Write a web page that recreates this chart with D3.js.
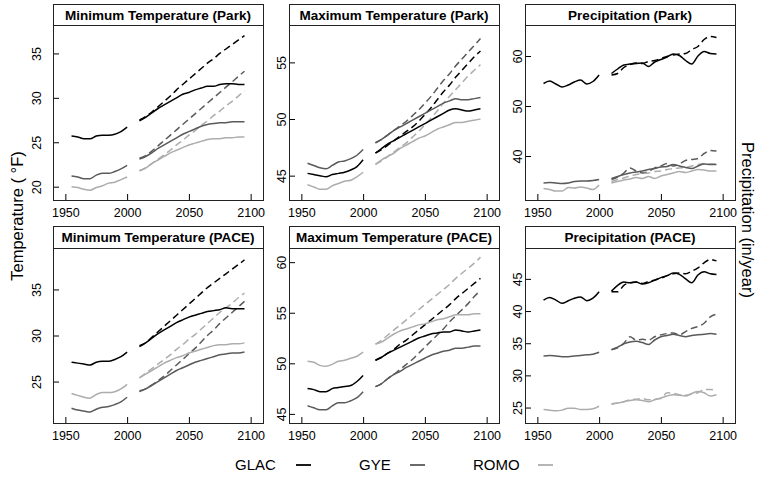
<!DOCTYPE html>
<html>
<head>
<meta charset="utf-8">
<script src="https://cdn.jsdelivr.net/npm/d3@7"></script>
<style>
  body { margin: 0; background: #fff; }
  svg { display: block; }
  text { font-family: "Liberation Sans", Arial, Helvetica, sans-serif; fill: #000; }
</style>
</head>
<body>
<svg id="chart" width="758" height="478"></svg>
<script>
// ---- Data -------------------------------------------------------------
const xTicks = [1950, 2000, 2050, 2100];
const histYears = [1955, 1960, 1965, 1970, 1975, 1980, 1985, 1990, 1995, 2000];
const futureYears = [2010, 2015, 2020, 2025, 2030, 2035, 2040, 2045, 2050,
                     2055, 2060, 2065, 2070, 2075, 2080, 2085, 2090, 2095];
const parks = ["GLAC", "GYE", "ROMO"];

// Minimum temperature, park (°F): historical, moderate (solid), high (dashed)
const tminPark_GLAC_hist = [25.7, 25.6, 25.4, 25.4, 25.7, 25.8, 25.8, 25.9, 26.2, 26.7];
const tminPark_GLAC_mod  = [27.4, 27.8, 28.3, 28.8, 29.2, 29.6, 30.0, 30.4, 30.6, 30.9, 31.1, 31.3, 31.3, 31.5, 31.6, 31.6, 31.5, 31.5];
const tminPark_GLAC_high = [27.5, 27.9, 28.4, 29.0, 29.6, 30.2, 30.9, 31.5, 32.1, 32.7, 33.3, 33.9, 34.4, 35.0, 35.5, 36.0, 36.5, 37.0];
const tminPark_GYE_hist  = [21.2, 21.1, 20.9, 20.9, 21.3, 21.5, 21.5, 21.7, 22.0, 22.4];
const tminPark_GYE_mod   = [23.1, 23.4, 23.8, 24.3, 24.7, 25.1, 25.5, 25.9, 26.2, 26.5, 26.8, 27.0, 27.1, 27.2, 27.2, 27.3, 27.3, 27.3];
const tminPark_GYE_high  = [23.2, 23.5, 24.0, 24.6, 25.2, 25.8, 26.4, 27.0, 27.6, 28.2, 28.8, 29.4, 30.0, 30.6, 31.2, 31.8, 32.4, 33.0];
const tminPark_ROMO_hist = [20.0, 19.9, 19.7, 19.6, 19.9, 20.1, 20.4, 20.5, 20.8, 21.1];
const tminPark_ROMO_mod  = [21.8, 22.1, 22.6, 23.0, 23.4, 23.8, 24.1, 24.4, 24.7, 24.9, 25.1, 25.3, 25.4, 25.4, 25.5, 25.5, 25.6, 25.6];
const tminPark_ROMO_high = [21.8, 22.1, 22.6, 23.1, 23.6, 24.1, 24.7, 25.2, 25.8, 26.3, 26.9, 27.4, 28.0, 28.5, 29.1, 29.6, 30.2, 30.8];

// Maximum temperature, park (°F)
const tmaxPark_GLAC_hist = [45.2, 45.1, 45.0, 44.9, 45.1, 45.2, 45.3, 45.5, 45.8, 46.4];
const tmaxPark_GLAC_mod  = [47.0, 47.4, 47.8, 48.1, 48.4, 48.7, 49.0, 49.3, 49.6, 49.9, 50.2, 50.5, 50.8, 50.9, 50.8, 50.7, 50.8, 50.9];
const tmaxPark_GLAC_high = [47.0, 47.3, 47.7, 48.1, 48.5, 48.9, 49.3, 49.8, 50.4, 51.0, 51.7, 52.4, 53.0, 53.7, 54.3, 54.9, 55.5, 56.0];
const tmaxPark_GYE_hist  = [46.1, 45.9, 45.7, 45.6, 45.9, 46.2, 46.3, 46.5, 46.8, 47.3];
const tmaxPark_GYE_mod   = [47.9, 48.2, 48.6, 49.0, 49.3, 49.6, 49.9, 50.2, 50.5, 50.8, 51.1, 51.4, 51.6, 51.8, 51.7, 51.7, 51.8, 51.9];
const tmaxPark_GYE_high  = [47.9, 48.2, 48.6, 49.0, 49.4, 49.8, 50.3, 50.8, 51.4, 52.0, 52.7, 53.4, 54.0, 54.7, 55.3, 55.9, 56.5, 57.1];
const tmaxPark_ROMO_hist = [44.2, 44.0, 43.8, 43.8, 44.1, 44.3, 44.5, 44.6, 44.9, 45.3];
const tmaxPark_ROMO_mod  = [46.0, 46.4, 46.7, 47.0, 47.4, 47.7, 48.0, 48.3, 48.5, 48.8, 49.1, 49.3, 49.5, 49.7, 49.7, 49.8, 49.9, 50.0];
const tmaxPark_ROMO_high = [46.0, 46.3, 46.7, 47.1, 47.5, 47.9, 48.4, 48.9, 49.5, 50.1, 50.7, 51.4, 52.0, 52.6, 53.2, 53.8, 54.3, 54.8];

// Precipitation, park (in/year)
const precPark_GLAC_hist = [54.5, 55.0, 54.4, 53.8, 54.2, 54.8, 55.2, 54.4, 54.9, 56.2];
const precPark_GLAC_mod  = [56.5, 57.4, 58.2, 58.4, 58.5, 58.6, 57.9, 58.8, 59.3, 59.8, 60.4, 60.1, 59.1, 58.4, 60.0, 60.9, 60.5, 60.4];
const precPark_GLAC_high = [56.2, 56.5, 57.7, 58.3, 58.6, 58.5, 58.9, 59.1, 59.5, 59.9, 60.2, 60.4, 60.5, 61.3, 61.9, 63.3, 63.9, 63.7];
const precPark_GYE_hist  = [34.6, 34.7, 34.6, 34.5, 34.6, 34.9, 35.0, 35.0, 35.1, 35.3];
const precPark_GYE_mod   = [35.5, 35.9, 36.3, 36.6, 36.8, 37.0, 37.3, 37.5, 37.8, 37.9, 38.3, 38.0, 37.7, 37.5, 38.0, 38.4, 38.3, 38.3];
const precPark_GYE_high  = [35.3, 35.8, 36.6, 37.6, 37.0, 36.6, 36.9, 37.6, 38.0, 38.5, 38.0, 38.4, 39.1, 39.3, 39.5, 40.5, 41.1, 41.0];
const precPark_ROMO_hist = [33.5, 33.3, 33.0, 33.0, 33.7, 33.6, 33.8, 33.6, 33.3, 34.2];
const precPark_ROMO_mod  = [34.6, 34.9, 35.2, 35.4, 35.7, 35.5, 35.9, 35.5, 36.0, 36.3, 36.6, 36.9, 36.7, 37.0, 37.3, 37.2, 37.0, 37.0];
const precPark_ROMO_high = [34.9, 35.3, 35.6, 36.0, 36.3, 36.5, 36.6, 36.9, 37.0, 37.3, 37.5, 37.6, 37.7, 38.0, 38.3, 38.5, 38.4, 38.4];

// Minimum temperature, PACE (°F)
const tminPace_GLAC_hist = [27.1, 27.0, 26.9, 26.8, 27.1, 27.2, 27.2, 27.4, 27.7, 28.2];
const tminPace_GLAC_mod  = [28.9, 29.2, 29.7, 30.2, 30.6, 31.0, 31.4, 31.7, 32.0, 32.2, 32.4, 32.6, 32.7, 32.8, 33.0, 32.9, 32.9, 32.9];
const tminPace_GLAC_high = [28.8, 29.2, 29.8, 30.4, 31.0, 31.6, 32.2, 32.8, 33.4, 34.0, 34.6, 35.2, 35.7, 36.2, 36.7, 37.2, 37.7, 38.2];
const tminPace_GYE_hist  = [22.1, 21.9, 21.8, 21.7, 22.0, 22.2, 22.3, 22.5, 22.8, 23.3];
const tminPace_GYE_mod   = [23.9, 24.2, 24.6, 25.0, 25.4, 25.8, 26.2, 26.5, 26.8, 27.1, 27.3, 27.5, 27.7, 27.9, 28.0, 28.1, 28.1, 28.2];
const tminPace_GYE_high  = [24.0, 24.2, 24.6, 25.1, 25.6, 26.2, 26.8, 27.4, 28.0, 28.6, 29.3, 30.0, 30.6, 31.3, 31.9, 32.5, 33.1, 33.7];
const tminPace_ROMO_hist = [23.7, 23.5, 23.3, 23.2, 23.6, 23.8, 23.8, 23.9, 24.2, 24.7];
const tminPace_ROMO_mod  = [25.4, 25.8, 26.2, 26.6, 27.0, 27.3, 27.6, 27.8, 28.1, 28.3, 28.5, 28.7, 28.9, 29.0, 29.0, 29.1, 29.1, 29.2];
const tminPace_ROMO_high = [25.4, 25.9, 26.4, 26.9, 27.4, 27.9, 28.5, 29.0, 29.6, 30.1, 30.7, 31.3, 31.9, 32.5, 33.0, 33.5, 34.1, 34.6];

// Maximum temperature, PACE (°F)
const tmaxPace_GLAC_hist = [47.5, 47.4, 47.2, 47.2, 47.5, 47.6, 47.7, 47.8, 48.2, 48.8];
const tmaxPace_GLAC_mod  = [50.3, 50.6, 51.0, 51.3, 51.6, 51.9, 52.2, 52.5, 52.7, 52.9, 53.0, 53.1, 53.1, 53.3, 53.2, 53.1, 53.2, 53.3];
const tmaxPace_GLAC_high = [50.3, 50.6, 51.0, 51.4, 51.9, 52.3, 52.8, 53.3, 53.8, 54.3, 54.8, 55.3, 55.8, 56.4, 56.9, 57.4, 57.9, 58.4];
const tmaxPace_GYE_hist  = [45.8, 45.6, 45.4, 45.4, 45.8, 46.1, 46.1, 46.3, 46.6, 47.2];
const tmaxPace_GYE_mod   = [47.7, 48.0, 48.5, 48.9, 49.2, 49.6, 49.9, 50.2, 50.5, 50.8, 51.0, 51.2, 51.3, 51.5, 51.5, 51.6, 51.7, 51.7];
const tmaxPace_GYE_high  = [47.7, 48.0, 48.5, 48.9, 49.4, 49.9, 50.4, 51.0, 51.6, 52.2, 52.8, 53.4, 54.1, 54.7, 55.3, 55.9, 56.6, 57.2];
const tmaxPace_ROMO_hist = [50.2, 50.1, 49.8, 49.7, 49.9, 50.2, 50.3, 50.5, 50.7, 51.1];
const tmaxPace_ROMO_mod  = [51.9, 52.1, 52.5, 52.9, 53.2, 53.4, 53.6, 53.8, 53.9, 54.1, 54.3, 54.4, 54.6, 54.8, 54.8, 54.8, 54.9, 54.9];
const tmaxPace_ROMO_high = [51.9, 52.3, 52.8, 53.3, 53.8, 54.3, 54.8, 55.3, 55.8, 56.3, 56.8, 57.3, 57.8, 58.4, 58.9, 59.4, 59.9, 60.5];

// Precipitation, PACE (in/year)
const precPace_GLAC_hist = [41.7, 42.1, 41.7, 41.2, 41.6, 42.0, 42.2, 41.6, 42.0, 43.0];
const precPace_GLAC_mod  = [43.1, 44.0, 44.5, 44.4, 44.5, 44.2, 44.4, 44.8, 45.2, 45.5, 45.9, 45.7, 45.0, 44.4, 45.6, 46.1, 45.8, 45.7];
const precPace_GLAC_high = [43.0, 43.0, 44.0, 44.4, 44.5, 44.3, 44.6, 44.8, 45.1, 45.5, 45.8, 45.9, 45.8, 46.2, 46.7, 47.5, 48.0, 47.8];
const precPace_GYE_hist  = [33.0, 33.1, 33.0, 32.9, 32.9, 33.0, 33.1, 33.2, 33.3, 33.6];
const precPace_GYE_mod   = [34.0, 34.4, 34.9, 35.2, 35.3, 35.1, 34.8, 35.5, 36.0, 36.2, 36.4, 36.2, 36.0, 36.2, 36.3, 36.4, 36.5, 36.4];
const precPace_GYE_high  = [34.0, 34.3, 35.0, 36.0, 35.5, 35.6, 35.5, 36.0, 36.3, 36.5, 36.6, 36.3, 36.8, 37.3, 37.6, 38.1, 39.1, 39.5];
const precPace_ROMO_hist = [24.7, 24.6, 24.5, 24.6, 24.9, 24.9, 24.7, 24.7, 24.8, 25.2];
const precPace_ROMO_mod  = [25.6, 25.7, 25.9, 26.1, 26.2, 26.1, 25.9, 26.2, 26.5, 26.8, 27.0, 26.9, 26.8, 27.2, 27.5, 27.3, 26.8, 27.0];
const precPace_ROMO_high = [25.5, 25.7, 25.9, 26.2, 26.3, 26.4, 26.2, 26.3, 26.4, 27.3, 27.2, 27.0, 26.9, 27.1, 27.3, 27.8, 27.8, 27.7];

// ---- Layout & style ---------------------------------------------------
const colLeft = [53, 289, 525];
const panelWidth = 210;
const rows = [
  { top: 4,   stripBottom: 25,  bottom: 200 },
  { top: 226, stripBottom: 248, bottom: 423 }
];
const parkColor = { GLAC: "#000000", GYE: "#5a5a5a", ROMO: "#adadad" };
const lineWidth = 1.5;
const dashPattern = "7,4";

const panels = [
  { title: "Minimum Temperature (Park)", row: 0, col: 0, yLim: [18.5, 38.2], yTicks: [20, 25, 30, 35], labelGap: 16.5,
    series: [[tminPark_GLAC_hist, tminPark_GLAC_mod, tminPark_GLAC_high],
             [tminPark_GYE_hist,  tminPark_GYE_mod,  tminPark_GYE_high],
             [tminPark_ROMO_hist, tminPark_ROMO_mod, tminPark_ROMO_high]] },
  { title: "Maximum Temperature (Park)", row: 0, col: 1, yLim: [42.85, 58.3], yTicks: [45, 50, 55], labelGap: 8,
    series: [[tmaxPark_GLAC_hist, tmaxPark_GLAC_mod, tmaxPark_GLAC_high],
             [tmaxPark_GYE_hist,  tmaxPark_GYE_mod,  tmaxPark_GYE_high],
             [tmaxPark_ROMO_hist, tmaxPark_ROMO_mod, tmaxPark_ROMO_high]] },
  { title: "Precipitation (Park)", row: 0, col: 2, yLim: [31.2, 66.2], yTicks: [40, 50, 60], labelGap: 8,
    series: [[precPark_GLAC_hist, precPark_GLAC_mod, precPark_GLAC_high],
             [precPark_GYE_hist,  precPark_GYE_mod,  precPark_GYE_high],
             [precPark_ROMO_hist, precPark_ROMO_mod, precPark_ROMO_high]] },
  { title: "Minimum Temperature (PACE)", row: 1, col: 0, yLim: [20.5, 39.5], yTicks: [25, 30, 35], labelGap: 16.5,
    series: [[tminPace_GLAC_hist, tminPace_GLAC_mod, tminPace_GLAC_high],
             [tminPace_GYE_hist,  tminPace_GYE_mod,  tminPace_GYE_high],
             [tminPace_ROMO_hist, tminPace_ROMO_mod, tminPace_ROMO_high]] },
  { title: "Maximum Temperature (PACE)", row: 1, col: 1, yLim: [44.1, 61.4], yTicks: [45, 50, 55, 60], labelGap: 8,
    series: [[tmaxPace_GLAC_hist, tmaxPace_GLAC_mod, tmaxPace_GLAC_high],
             [tmaxPace_GYE_hist,  tmaxPace_GYE_mod,  tmaxPace_GYE_high],
             [tmaxPace_ROMO_hist, tmaxPace_ROMO_mod, tmaxPace_ROMO_high]] },
  { title: "Precipitation (PACE)", row: 1, col: 2, yLim: [22.6, 49.8], yTicks: [25, 30, 35, 40, 45], labelGap: 8,
    series: [[precPace_GLAC_hist, precPace_GLAC_mod, precPace_GLAC_high],
             [precPace_GYE_hist,  precPace_GYE_mod,  precPace_GYE_high],
             [precPace_ROMO_hist, precPace_ROMO_mod, precPace_ROMO_high]] }
];

// ---- Drawing ----------------------------------------------------------
const svg = d3.select("#chart");

function drawPanel(p) {
  const r = rows[p.row];
  const left = colLeft[p.col];
  const x = d3.scaleLinear().domain([1940, 2110]).range([left, left + panelWidth]);
  const y = d3.scaleLinear().domain(p.yLim).range([r.bottom, r.stripBottom]);
  const g = svg.append("g");

  const line = (years) => d3.line()
    .x((d, i) => x(years[i]))
    .y(d => y(d))
    .curve(d3.curveMonotoneX);

  // future: high-emission (dashed) first, then moderate (solid) and historical
  p.series.forEach((s, k) => {
    const col = parkColor[parks[k]];
    g.append("path").attr("d", line(futureYears)(s[2]))
      .attr("fill", "none").attr("stroke", col).attr("stroke-width", lineWidth)
      .attr("stroke-dasharray", dashPattern);
  });
  p.series.forEach((s, k) => {
    const col = parkColor[parks[k]];
    g.append("path").attr("d", line(futureYears)(s[1]))
      .attr("fill", "none").attr("stroke", col).attr("stroke-width", lineWidth);
    g.append("path").attr("d", line(histYears)(s[0]))
      .attr("fill", "none").attr("stroke", col).attr("stroke-width", lineWidth);
  });

  // x axis, ticks pointing into the plot
  const xa = g.append("g").attr("transform", `translate(0,${r.bottom})`)
    .call(d3.axisBottom(x).tickValues(xTicks).tickFormat(d3.format("d")).tickSize(-6).tickPadding(8));
  xa.select(".domain").remove();
  xa.selectAll("line").attr("stroke", "#000");
  xa.selectAll("text").attr("font-size", 12.5).attr("font-family", null).attr("fill", "#000");

  // y axis, ticks inward and labels rotated
  const ya = g.append("g").attr("transform", `translate(${left},0)`)
    .call(d3.axisLeft(y).tickValues(p.yTicks).tickSize(-6));
  ya.select(".domain").remove();
  ya.selectAll("line").attr("stroke", "#000");
  ya.selectAll("text")
    .attr("font-size", 12.5).attr("font-family", null).attr("fill", "#000")
    .attr("x", null).attr("dy", null)
    .attr("text-anchor", "middle")
    .attr("transform", `translate(${-p.labelGap + 4.5},0) rotate(-90)`);

  // frame and title strip
  g.append("rect").attr("x", left + 0.5).attr("y", r.top + 0.5)
    .attr("width", panelWidth).attr("height", r.bottom - r.top)
    .attr("fill", "none").attr("stroke", "#222").attr("stroke-width", 1);
  g.append("line").attr("x1", left).attr("x2", left + panelWidth)
    .attr("y1", r.stripBottom + 0.5).attr("y2", r.stripBottom + 0.5)
    .attr("stroke", "#222");
  g.append("text").attr("x", left + panelWidth / 2).attr("y", (r.top + r.stripBottom) / 2 + 5)
    .attr("text-anchor", "middle").attr("font-weight", "bold").attr("font-size", 13.5)
    .text(p.title);
}

panels.forEach(drawPanel);

// axis titles
svg.append("text").attr("transform", "translate(23,216) rotate(-90)")
  .attr("text-anchor", "middle").attr("font-size", 16.5).text("Temperature ( °F)");
svg.append("text").attr("transform", "translate(742,220) rotate(90)")
  .attr("text-anchor", "middle").attr("font-size", 16.5).text("Precipitation (in/year)");

// legend
const legendText = [235, 359, 473];
const legendLine = [296, 410, 538];
parks.forEach((name, k) => {
  svg.append("text").attr("x", legendText[k]).attr("y", 470)
    .attr("font-size", 15).text(name);
  svg.append("line").attr("x1", legendLine[k]).attr("x2", legendLine[k] + 15)
    .attr("y1", 465).attr("y2", 465)
    .attr("stroke", parkColor[name]).attr("stroke-width", 1.8);
});
</script>
</body>
</html>
